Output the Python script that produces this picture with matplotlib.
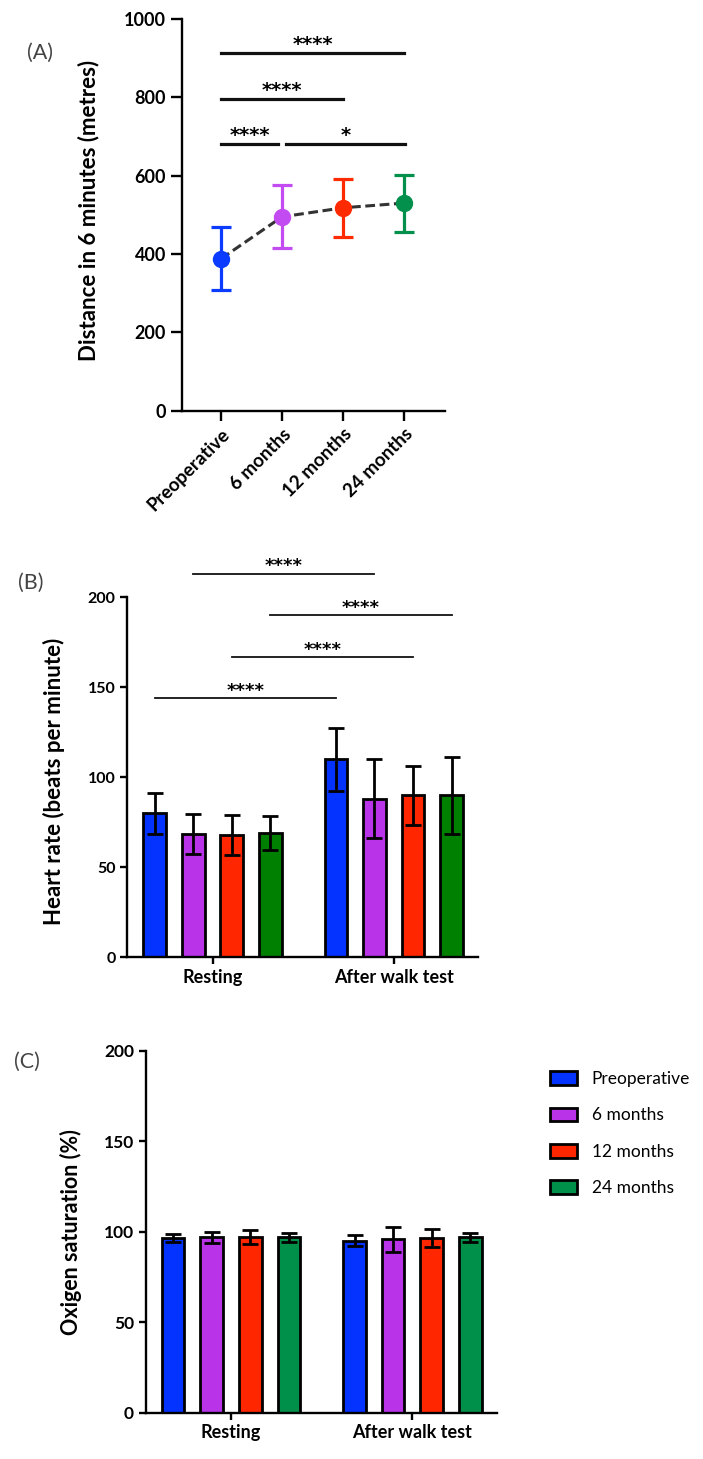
import numpy as np
import matplotlib
matplotlib.use('Agg')
import matplotlib.pyplot as plt

plt.rcParams['font.family'] = ['Lato', 'DejaVu Sans']

# data
groups = ['Preoperative', '6 months', '12 months', '24 months']
conditions = ['Resting', 'After walk test']

dist_mean = [388, 495, 518, 530]
dist_sd = [80, 80, 74, 73]

hr_rest_mean = [80, 68.5, 68, 69]
hr_rest_sd = [11.5, 11, 11, 9.5]
hr_walk_mean = [110, 88, 90, 90]
hr_walk_sd = [17.5, 22, 16.5, 21.5]

o2_rest_mean = [96.5, 97, 97, 97]
o2_rest_sd = [2, 3, 4, 2.5]
o2_walk_mean = [95, 95.7, 96.5, 97]
o2_walk_sd = [3, 7, 5, 2.5]

# significance: (x start, x end, y, label)
a_sig = [(0, 3, 912, '****'), (0, 2, 795, '****'), (0, 0.93, 680, '****'), (1.07, 3.02, 680, '*')]
# heart rate: same group compared between resting and after walk test
b_sig = [(1, 213, '****'), (3, 190, '****'), (2, 166.7, '****'), (0, 143.9, '****')]

colors_a = ['#0a3bff', '#c24cf2', '#ff2a00', '#03904c']
colors_b = ['#0432ff', '#b933e8', '#ff2600', '#008000']
colors_c = ['#0432ff', '#b933e8', '#ff2600', '#00904a']

star_font = dict(family='DejaVu Sans', fontweight='bold')

fig = plt.figure(figsize=(7.03, 14.59), dpi=100)
fig.patch.set_facecolor('white')


def style_axis(ax, tick_len, fs):
    for s in ['top', 'right']:
        ax.spines[s].set_visible(False)
    for s in ['left', 'bottom']:
        ax.spines[s].set_linewidth(1.7)
    ax.tick_params(axis='both', width=1.7, length=tick_len, labelsize=fs)
    for lab in ax.get_yticklabels() + ax.get_xticklabels():
        lab.set_fontweight('bold')


# ---------- (A) ----------
axA = fig.add_axes([0.2589, 0.71851, 0.3741, 0.26847])
xa = np.arange(len(groups))
axA.plot(xa, dist_mean, color='#333333', lw=2.2, dashes=(3.2, 1.5), zorder=2)
for i in range(len(groups)):
    axA.errorbar(xa[i], dist_mean[i], yerr=dist_sd[i], fmt='o', color=colors_a[i],
                 ms=11.5, elinewidth=2.3, capsize=7, capthick=2.3, zorder=3)
axA.set_xlim(-0.64, 3.67)
axA.set_ylim(0, 1000)
axA.set_yticks([0, 200, 400, 600, 800, 1000])
axA.set_xticks(xa)
axA.set_xticklabels(groups, rotation=45, ha='right', rotation_mode='anchor')
style_axis(axA, 8, 13)
axA.tick_params(axis='x', labelsize=13.5, length=7)
axA.set_ylabel('Distance in 6 minutes (metres)', fontsize=16, fontweight='bold')
axA.yaxis.set_label_coords(-0.316, 0.51)
for x0, x1, y, lab in a_sig:
    axA.plot([x0, x1], [y, y], color='#111111', lw=2.3, clip_on=False)
    axA.text((x0 + x1) / 2, y + 8, lab, ha='center', va='baseline', fontsize=14, **star_font)
fig.text(40 / 703, 1 - 53 / 1459, '(A)', fontsize=15.5, color='#444444', ha='center', va='center')


def grouped_bars(ax, rest_m, rest_sd, walk_m, walk_sd, colors, yfs):
    w = 0.2127
    for i in range(len(groups)):
        xs = np.array([0, 1]) + (i - 1.5) * w
        ms = [rest_m[i], walk_m[i]]
        sds = [rest_sd[i], walk_sd[i]]
        ax.bar(xs, ms, width=0.125, color=colors[i], edgecolor='black', linewidth=2,
               label=groups[i], zorder=2)
        ax.errorbar(xs, ms, yerr=sds, fmt='none', ecolor='black', elinewidth=2,
                    capsize=5.5, capthick=2, zorder=3)
    ax.set_xlim(-0.47, 1.465)
    ax.set_ylim(0, 200)
    ax.set_yticks([0, 50, 100, 150, 200])
    ax.set_xticks([0, 1])
    ax.set_xticklabels(conditions)
    style_axis(ax, 5, yfs)
    ax.tick_params(axis='x', labelsize=13)
    return w


# ---------- (B) ----------
axB = fig.add_axes([0.1811, 0.34387, 0.4989, 0.24674])
w = grouped_bars(axB, hr_rest_mean, hr_rest_sd, hr_walk_mean, hr_walk_sd, colors_b, 11.5)
axB.set_ylabel('Heart rate (beats per minute)', fontsize=16, fontweight='bold')
axB.yaxis.set_label_coords(-0.178, 0.49)
for i, y, lab in b_sig:
    x0 = (i - 1.5) * w
    x1 = 1 + (i - 1.5) * w
    axB.plot([x0, x1], [y, y], color='#111111', lw=1.3, clip_on=False)
    axB.text((x0 + x1) / 2, y + 1.5, lab, ha='center', va='baseline', fontsize=13, **star_font)
fig.text(31 / 703, 1 - 583 / 1459, '(B)', fontsize=15.5, color='#444444', ha='center', va='center')

# ---------- (C) ----------
axC = fig.add_axes([0.2073, 0.03174, 0.4993, 0.24811])
grouped_bars(axC, o2_rest_mean, o2_rest_sd, o2_walk_mean, o2_walk_sd, colors_c, 12.5)
axC.set_ylabel('Oxigen saturation (%)', fontsize=15.5, fontweight='bold')
axC.yaxis.set_label_coords(-0.181, 0.5)
fig.text(27 / 703, 1 - 1062 / 1459, '(C)', fontsize=15.5, color='#444444', ha='center', va='center')
axC.legend(loc='upper left', bbox_to_anchor=(550 / 703, 1 - 1071 / 1459),
           bbox_transform=fig.transFigure, frameon=False, fontsize=12.5,
           handlelength=1.55, handleheight=0.86, labelspacing=1.18, handletextpad=0.85,
           borderaxespad=0, borderpad=0)

fig.savefig('out.png', dpi=100, facecolor='white')
plt.close(fig)
